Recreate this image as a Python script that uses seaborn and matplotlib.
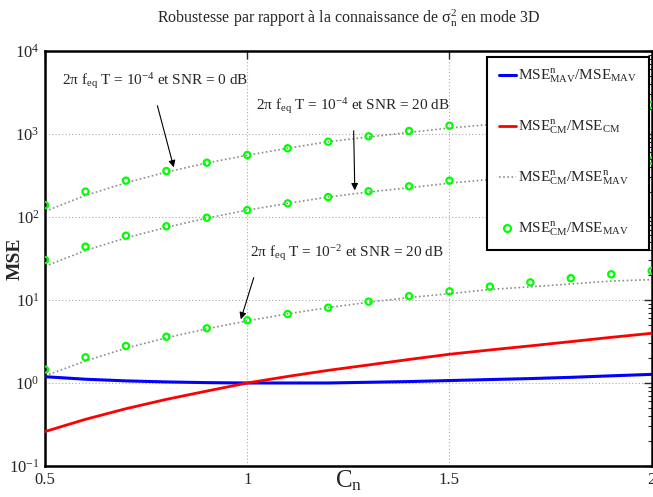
import numpy as np
import pandas as pd
import matplotlib
matplotlib.use("Agg")
import matplotlib.pyplot as plt
import seaborn as sns
from matplotlib.lines import Line2D
from matplotlib.ticker import LogLocator, NullFormatter, FixedLocator

# values
cn = [0.5, 0.6, 0.7, 0.8, 0.9, 1.0, 1.1, 1.2, 1.3, 1.4, 1.5, 1.6, 1.7, 1.8, 1.9, 2.0]

# MSE^n_MAV / MSE_MAV (blue) and MSE^n_CM / MSE_CM (red)
mav_ratio = [1.19, 1.11, 1.06, 1.03, 1.01, 1.00, 1.00, 1.00, 1.02, 1.04, 1.07, 1.10, 1.13, 1.17, 1.22, 1.27]
cm_ratio = [0.26, 0.365, 0.49, 0.635, 0.80, 1.0, 1.2, 1.42, 1.65, 1.92, 2.22, 2.5, 2.8, 3.15, 3.55, 3.97]

# MSE^n_CM / MSE^n_MAV (dotted lines), three cases
cmn_mavn_a = [117, 182, 258, 348, 447, 555, 673, 807, 920, 1045, 1180, 1300, 1415, 1540, 1660, 1760]
cmn_mavn_b = [25.5, 39.5, 56, 75, 97, 121, 146, 174, 200, 225, 256, 283, 301, 325, 351, 376]
cmn_mavn_c = [1.22, 1.84, 2.63, 3.5, 4.5, 5.6, 6.8, 8.1, 9.4, 10.7, 11.9, 13.4, 14.4, 15.6, 16.9, 17.6]

# MSE^n_CM / MSE_MAV (green circles), three cases
cmn_mav_a = [139, 202, 274, 358, 451, 558, 673, 807, 938, 1087, 1259, 1407, 1600, 1800, 2010, 2234]
cmn_mav_b = [30.3, 43.9, 59.5, 77.2, 98, 121, 146, 174, 204, 234, 274, 306, 340, 380, 425, 477]
cmn_mav_c = [1.45, 2.04, 2.79, 3.61, 4.56, 5.7, 6.78, 8.08, 9.55, 11.1, 12.7, 14.5, 16.3, 18.3, 20.4, 22.4]

cases = ["A", "B", "C"]
legend_labels = [r"MSE$^{n}_{MAV}$/MSE$_{MAV}$",
                 r"MSE$^{n}_{CM}$/MSE$_{CM}$",
                 r"MSE$^{n}_{CM}$/MSE$^{n}_{MAV}$",
                 r"MSE$^{n}_{CM}$/MSE$_{MAV}$"]
annot_texts = [r"2$\pi$ f$_{eq}$ T = 10$^{-4}$ et SNR = 0 dB",
               r"2$\pi$ f$_{eq}$ T = 10$^{-4}$ et SNR = 20 dB",
               r"2$\pi$ f$_{eq}$ T = 10$^{-2}$ et SNR = 20 dB"]

lines_df = pd.DataFrame({
    "cn": cn * 3,
    "val": cmn_mavn_a + cmn_mavn_b + cmn_mavn_c,
    "case": np.repeat(cases, len(cn)),
})
pts_df = pd.DataFrame({
    "cn": cn * 3,
    "val": cmn_mav_a + cmn_mav_b + cmn_mav_c,
    "case": np.repeat(cases, len(cn)),
})

sns.set_style("white")
plt.rcParams["font.family"] = ["Liberation Serif", "DejaVu Serif"]
plt.rcParams["mathtext.fontset"] = "stix"
plt.rcParams["mathtext.default"] = "regular"

fig = plt.figure(figsize=(6.53, 4.97), dpi=100)
ax = fig.add_axes([0.069, 0.0624, 0.929, 0.835])

gray = "#8c8c8c"
for c in cases:
    sns.lineplot(data=lines_df[lines_df["case"] == c], x="cn", y="val", color=gray,
                 linestyle=(0, (1, 1.5)), lw=1.2, ax=ax, legend=False, zorder=2)
sns.scatterplot(data=pts_df, x="cn", y="val", marker="o", s=20, facecolor="none",
                edgecolor="#00ff00", linewidth=1.6, ax=ax, legend=False, zorder=3)
sns.lineplot(x=cn, y=mav_ratio, color="blue", lw=2.2, ax=ax, legend=False, zorder=4)
sns.lineplot(x=cn, y=cm_ratio, color="red", lw=2.0, ax=ax, legend=False, zorder=4)

ax.set_yscale("log")
ax.set_xlim(0.5, 2.0)
ax.set_ylim(1e-1, 1e4)
ax.xaxis.set_major_locator(FixedLocator([0.5, 1.0, 1.5, 2.0]))
ax.set_xticklabels(["0.5", "1", "1.5", "2"])
ax.yaxis.set_major_locator(LogLocator(base=10, numticks=10))
ax.yaxis.set_minor_locator(LogLocator(base=10, subs=np.arange(2, 10), numticks=20))
ax.yaxis.set_minor_formatter(NullFormatter())
ax.tick_params(which="both", direction="in", top=True, right=True, labelsize=12, pad=4)
ax.tick_params(which="major", length=6, width=1.0)
ax.tick_params(which="minor", length=3, width=0.8)
ax.grid(True, which="major", linestyle=(0, (1, 2)), color="#aaaaaa", lw=0.8)
for s in ax.spines.values():
    s.set_linewidth(1.8)
    s.set_color("black")

ax.set_title(r"Robustesse par rapport à la connaissance de $\sigma^{2}_{n}$ en mode 3D",
             fontsize=11.5, pad=20)
ax.set_xlabel(r"C$_{n}$", fontsize=18, labelpad=-14)
ax.set_ylabel("MSE", fontsize=14, fontweight="bold")
ax.yaxis.set_label_coords(-0.035, 0.5)

# annotations with arrows
text_pos = [(0.773, 3890), (1.26, 1946), (1.246, 33.2)]
arrow_tail = [(0.776, 2362), (1.263, 1181), (1.018, 20)]
arrow_head = [(0.82, 368), (1.266, 194), (0.982, 5.43)]
for t, p, a, h in zip(annot_texts, text_pos, arrow_tail, arrow_head):
    ax.text(p[0], p[1], t, fontsize=11, ha="center", va="baseline", zorder=5)
    ax.annotate("", xy=h, xytext=a,
                arrowprops=dict(arrowstyle="-|>", color="black", lw=0.8, mutation_scale=10),
                zorder=5)

handles = [Line2D([], [], color="blue", lw=2.2),
           Line2D([], [], color="red", lw=2.0),
           Line2D([], [], color=gray, lw=1.2, linestyle=(0, (1, 1.5))),
           Line2D([], [], color="#00ff00", lw=0, marker="o", markerfacecolor="none",
                  markeredgewidth=1.6, markersize=5)]
leg = ax.legend(handles, legend_labels, loc="upper right", fontsize=11,
                frameon=True, fancybox=False, framealpha=1, edgecolor="black",
                handlelength=1.1, handletextpad=0.15, labelspacing=2.15,
                borderpad=0.75, borderaxespad=0.0, bbox_to_anchor=(0.995, 0.986))
leg.get_frame().set_linewidth(1.5)
leg.set_zorder(10)

fig.savefig("out.png", dpi=100)
